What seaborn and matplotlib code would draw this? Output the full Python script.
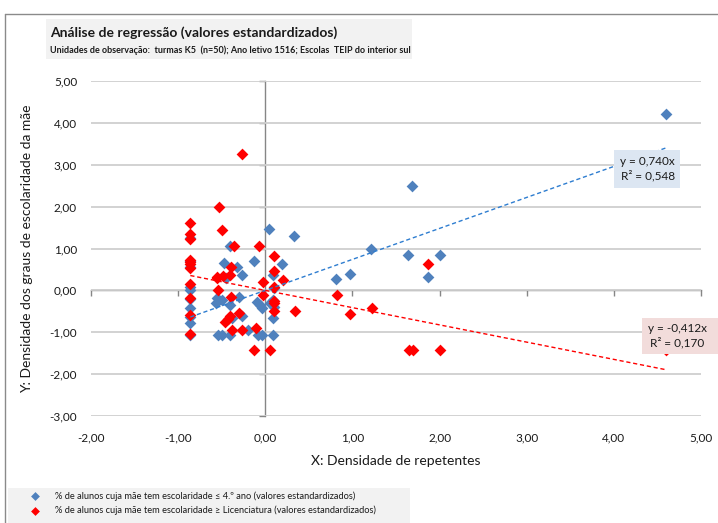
import matplotlib
matplotlib.use("Agg")
import matplotlib.pyplot as plt
from matplotlib.patches import Rectangle
from matplotlib.lines import Line2D
import numpy as np
import pandas as pd
import seaborn as sns

# ---- data: standardized values per class ----
x_baixa = [4.60, 1.68, 0.04, 0.33, 1.21, 1.64, 2.00, 1.87, 0.81, 0.97,
           0.19, -0.135, -0.47, -0.40, -0.27, 0.09, -0.86, -0.86, -0.86, -0.86,
           -0.86, -0.86, -0.86, -0.55, -0.57, -0.54, -0.50, -0.40, -0.40, -0.30,
           -0.27, -0.10, -0.06, -0.04, -0.08, -0.04, 0.09, 0.09, 0.09, -0.86,
           -0.50, -0.38, 0.10, -0.86, -0.45, -0.33, 0.05, -0.20, 0.10, -0.86]
y_baixa = [4.21, 2.49, 1.47, 1.31, 1.00, 0.84, 0.84, 0.31, 0.28, 0.40,
           0.63, 0.69, 0.66, 1.06, 0.37, 0.37, 0.57, 0.09, 0.00, -0.43,
           -0.63, -0.79, -1.07, -0.19, -0.31, -1.07, -1.07, -0.35, -1.07, -0.17,
           -0.61, -0.27, -0.36, -0.43, -1.07, -1.07, -0.67, -1.07, -0.22, 0.70,
           -0.22, -0.65, 0.05, -0.20, 0.30, 0.55, -0.30, -0.95, -0.40, 1.25]

x_alta = [-0.27, -0.53, -0.50, -0.86, -0.86, -0.86, -0.36, -0.07, 0.10, -0.86,
          -0.86, -0.86, -0.39, 0.10, -0.55, -0.48, -0.40, 0.20, -0.03, -0.86,
          0.10, -0.54, -0.03, -0.39, -0.86, 0.82, 0.10, 0.10, 0.10, 0.34,
          1.22, 0.97, -0.86, -0.30, -0.40, -0.43, -0.46, 1.87, -0.38, -0.27,
          -0.11, -0.86, -0.13, 0.05, 1.65, 1.69, 2.01, 4.60, -0.86, -0.55]
y_alta = [3.25, 2.00, 1.45, 1.62, 1.35, 1.22, 1.07, 1.07, 0.83, 0.72,
          0.64, 0.53, 0.55, 0.46, 0.33, 0.34, 0.37, 0.25, 0.21, 0.15,
          0.07, 0.01, -0.12, -0.17, -0.18, -0.11, -0.25, -0.31, -0.49, -0.49,
          -0.41, -0.57, -0.59, -0.55, -0.61, -0.68, -0.75, 0.63, -0.95, -0.95,
          -0.91, -1.05, -1.43, -1.43, -1.43, -1.43, -1.43, -1.43, 0.68, 0.30]

# trend lines through the origin: slope and R²
slope_baixa, r2_baixa = 0.740, 0.548
slope_alta, r2_alta = -0.412, 0.170

lab_baixa = "% de alunos cuja mãe tem escolaridade \u2264 4.º ano (valores estandardizados)"
lab_alta = "% de alunos cuja mãe tem escolaridade \u2265 Licenciatura (valores estandardizados)"

x_ticks = [-2, -1, 0, 1, 2, 3, 4, 5]
y_ticks = [-3, -2, -1, 0, 1, 2, 3, 4, 5]

BLUE = "#4f81bd"
RED = "#ff0000"
LINE_BLUE = "#2e7dd0"
GRID = "#cfcfcf"
AXIS = "#868686"
TXT = "#1a1a1a"

sns.set_theme(style="white")
plt.rcParams["font.family"] = ["Lato", "DejaVu Sans"]

fig = plt.figure(figsize=(7.18, 5.23), dpi=100)
W, H = 718, 523


def fx(px):
    return px / W


def fy(py):
    return 1 - py / H


ax = fig.add_axes([fx(91), fy(416), (701 - 91) / W, (416 - 81) / H])

df_b = pd.DataFrame({"x": x_baixa, "y": y_baixa})
df_a = pd.DataFrame({"x": x_alta, "y": y_alta})

sns.scatterplot(data=df_b, x="x", y="y", ax=ax, marker="D", s=36,
                color=BLUE, linewidth=0, label=lab_baixa, zorder=3)
sns.scatterplot(data=df_a, x="x", y="y", ax=ax, marker="D", s=36,
                color=RED, linewidth=0, label=lab_alta, zorder=4)

# trend lines over the observed x range
for xs, slope, col in [(x_baixa, slope_baixa, LINE_BLUE), (x_alta, slope_alta, RED)]:
    xr = np.array([min(xs), max(xs)])
    sns.lineplot(x=xr, y=slope * xr, ax=ax, color=col, lw=1.0,
                 linestyle=(0, (3, 2)), zorder=5, legend=False)

ax.set_xlim(-2, 5)
ax.set_ylim(-3, 5)
ax.set_xticks(x_ticks)
ax.set_yticks(y_ticks)
ax.set_xticklabels([f"{v:.2f}".replace(".", ",") for v in x_ticks])
ax.set_yticklabels([f"{v:.2f}".replace(".", ",") for v in y_ticks])
ax.tick_params(axis="x", length=0, pad=12, labelsize=8.5, labelcolor=TXT)
ax.tick_params(axis="y", length=0, pad=10, labelsize=8.5, labelcolor=TXT)
ax.yaxis.grid(True, color=GRID, lw=1.3, zorder=0)
ax.xaxis.grid(False)
for s in ax.spines.values():
    s.set_visible(False)
ax.set_facecolor("none")

# axis lines crossing at the origin, with small tick marks
sx = ax.secondary_xaxis(3 / 8)
sx.set_xticks(x_ticks)
sx.set_xticklabels([])
sx.tick_params(direction="out", length=4, color=AXIS, width=1)
sx.spines["bottom"].set_color(AXIS)
sx.spines["bottom"].set_linewidth(1.0)
sy = ax.secondary_yaxis(2 / 7)
sy.set_yticks(y_ticks)
sy.set_yticklabels([])
sy.tick_params(direction="out", length=4, color=AXIS, width=1)
sy.spines["left"].set_color(AXIS)
sy.spines["left"].set_linewidth(1.0)

ax.set_xlabel("X: Densidade de repetentes", fontsize=10, color=TXT, labelpad=8)
ax.set_ylabel("Y: Densidade dos graus de escolaridade da mãe", fontsize=10,
              color=TXT, labelpad=12)

# trend-line labels
ax.add_patch(Rectangle((fx(614), fy(188)), (680 - 614) / W, (188 - 150) / H,
                       transform=fig.transFigure, fc="#dce6f2", ec="none", zorder=6))
ax.text(4.39, 2.90, f"y = {slope_baixa:.3f}x\nR² = {r2_baixa:.3f}".replace(".", ","),
        ha="center", va="center", fontsize=8.5, color=TXT, zorder=7, linespacing=1.3)
ax.add_patch(Rectangle((fx(642), fy(354)), (718 - 642) / W, (354 - 318) / H,
                       transform=fig.transFigure, fc="#f2dcdb", ec="none", zorder=6,
                       clip_on=False))
ax.text(4.73, -1.09, f"y = {slope_alta:.3f}x\nR² = {r2_alta:.3f}".replace(".", ","),
        ha="center", va="center", fontsize=8.5, color=TXT, zorder=7, linespacing=1.3,
        clip_on=False)

# legend below the plot
h, l = ax.get_legend_handles_labels()
ax.get_legend().remove()
fig.add_artist(Rectangle((fx(8), 0), (410 - 8) / W, (523 - 488) / H,
                         transform=fig.transFigure, fc="#f2f2f2", ec="none", zorder=0))
leg = fig.legend(h, l, loc="lower left", bbox_to_anchor=(fx(21), fy(522)),
                 fontsize=6.7, frameon=False,
                 borderpad=0.2, handletextpad=1.38, labelspacing=0.55,
                 markerscale=0.75, handlelength=1.6)
for t in leg.get_texts():
    t.set_color(TXT)

# title block
fig.add_artist(Rectangle((fx(46), fy(59)), (412 - 46) / W, (59 - 19) / H,
                         transform=fig.transFigure, fc="#f2f2f2", ec="none", zorder=0))
fig.text(fx(50), fy(33), "Análise de regressão (valores estandardizados)",
         fontsize=10, fontweight="bold", va="center", ha="left", color=TXT)
fig.text(fx(50), fy(50), "Unidades de observação:  turmas K5  (n=50); Ano letivo 1516; Escolas  TEIP do interior sul",
         fontsize=6.5, fontweight="bold", va="center", ha="left", color=TXT)

# chart-area border (top and left edges visible)
fig.add_artist(Line2D([fx(5), 1], [fy(14), fy(14)], color="#8a8a8a", lw=1.0,
                      transform=fig.transFigure))
fig.add_artist(Line2D([fx(5), fx(5)], [fy(14), 0], color="#8a8a8a", lw=1.0,
                      transform=fig.transFigure))

fig.savefig("out.png", dpi=100, facecolor="white")
